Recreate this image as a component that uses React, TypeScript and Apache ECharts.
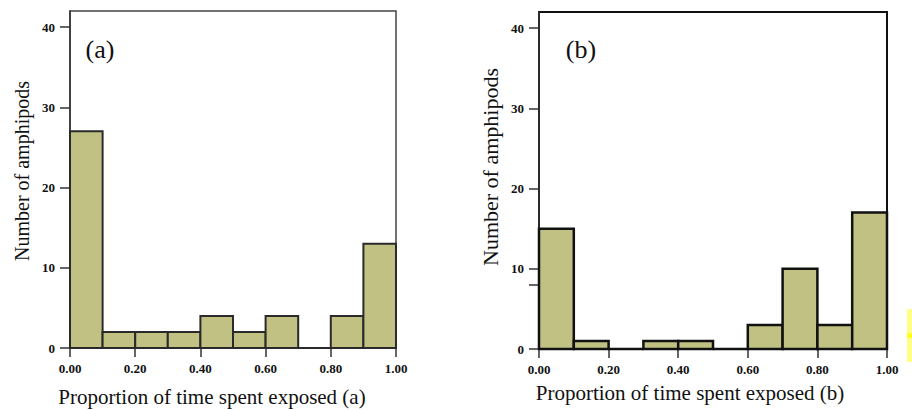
import React, { useEffect, useRef } from "react";
import * as echarts from "echarts";

const binEdges = [0, 0.1, 0.2, 0.3, 0.4, 0.5, 0.6, 0.7, 0.8, 0.9, 1.0];
const countsA = [27, 2, 2, 2, 4, 2, 4, 0, 4, 13];
const countsB = [15, 1, 0, 1, 1, 0, 3, 10, 3, 17];
const yLabelValues = [0, 10, 20, 30, 40];
const yTickValuesA = [0, 10, 20, 30, 40];
const yTickValuesB = [0, 8, 10, 20, 30, 40];
const xTitleA = "Proportion of time spent exposed (a)";
const xTitleB = "Proportion of time spent exposed (b)";
const yTitle = "Number of amphipods";
const panelA = "(a)";
const panelB = "(b)";

const SERIF = '"Liberation Serif", "Times New Roman", serif';
const FILL = "#c1c183";

function makeData(counts: number[]) {
  return counts.map((c, i) => [binEdges[i], binEdges[i + 1], c]);
}

function makeRender(stroke: string, lw: number) {
  return (params: any, api: any) => {
    const x0 = api.value(0);
    const x1 = api.value(1);
    const v = api.value(2);
    const p0 = api.coord([x0, 0]);
    const p1 = api.coord([x1, v]);
    if (v === 0) {
      return {
        type: "line",
        shape: { x1: p0[0], y1: p0[1], x2: p1[0], y2: p0[1] },
        style: { stroke, lineWidth: lw },
      };
    }
    return {
      type: "rect",
      shape: { x: p0[0], y: p1[1], width: p1[0] - p0[0], height: p0[1] - p1[1] },
      style: { fill: FILL, stroke, lineWidth: lw },
    };
  };
}

function xAxisCfg(gridIndex: number, lineColor: string) {
  return {
    type: "value",
    gridIndex,
    min: 0,
    max: 1,
    interval: 0.2,
    splitLine: { show: false },
    axisLine: { show: true, lineStyle: { color: lineColor, width: 1.5 } },
    axisTick: { show: true, length: 9, lineStyle: { color: "#333", width: 1.5 } },
    axisLabel: {
      margin: 14,
      fontFamily: SERIF,
      fontWeight: "bold",
      fontSize: 13,
      color: "#111",
      formatter: (v: number) => v.toFixed(2),
    },
  };
}

function yAxisCfg(gridIndex: number, tickVals: number[]) {
  return {
    type: "value",
    gridIndex,
    min: 0,
    max: 42,
    splitLine: { show: false },
    axisLine: { show: true, lineStyle: { color: "#333", width: 1.5 } },
    axisTick: {
      show: true,
      length: 10,
      customValues: tickVals,
      lineStyle: { color: "#333", width: 1.5 },
    },
    axisLabel: {
      margin: 15,
      customValues: yLabelValues,
      fontFamily: SERIF,
      fontWeight: "bold",
      fontSize: 13,
      color: "#111",
    },
  };
}

export default function App() {
  const ref = useRef<HTMLDivElement>(null);
  useEffect(() => {
    if (!ref.current) return;
    const chart = echarts.init(ref.current, undefined, { renderer: "svg" });
    chart.setOption({
      animation: false,
      backgroundColor: "#ffffff",
      grid: [
        { left: 70, top: 11, width: 326, height: 337, show: true, borderColor: "#444", borderWidth: 1.5, backgroundColor: "transparent" },
        { left: 539, top: 12, width: 348, height: 337, show: true, borderColor: "#111", borderWidth: 2, backgroundColor: "transparent" },
      ],
      xAxis: [xAxisCfg(0, "#333"), xAxisCfg(1, "#4a4a9a")],
      yAxis: [yAxisCfg(0, yTickValuesA), yAxisCfg(1, yTickValuesB)],
      series: [
        {
          type: "custom",
          xAxisIndex: 0,
          yAxisIndex: 0,
          data: makeData(countsA),
          encode: { x: [0, 1], y: 2 },
          renderItem: makeRender("#2a2a2a", 2),
        },
        {
          type: "custom",
          xAxisIndex: 1,
          yAxisIndex: 1,
          data: makeData(countsB),
          encode: { x: [0, 1], y: 2 },
          renderItem: makeRender("#111", 2.5),
        },
      ],
      graphic: [
        { type: "text", x: 100, y: 49, style: { text: panelA, fontFamily: SERIF, fontSize: 26, fill: "#111", align: "center", verticalAlign: "middle" } },
        { type: "text", x: 581, y: 49, style: { text: panelB, fontFamily: SERIF, fontSize: 26, fill: "#111", align: "center", verticalAlign: "middle" } },
        { type: "text", x: 212, y: 397, style: { text: xTitleA, fontFamily: SERIF, fontSize: 21, fill: "#111", align: "center", verticalAlign: "middle" } },
        { type: "text", x: 690, y: 393, style: { text: xTitleB, fontFamily: SERIF, fontSize: 21, fill: "#111", align: "center", verticalAlign: "middle" } },
        { type: "text", x: 22, y: 171, rotation: Math.PI / 2, style: { text: yTitle, fontFamily: SERIF, fontSize: 20, fill: "#111", align: "center", verticalAlign: "middle" } },
        { type: "text", x: 490, y: 167, rotation: Math.PI / 2, style: { text: yTitle, fontFamily: SERIF, fontSize: 22, fill: "#111", align: "center", verticalAlign: "middle" } },
        { type: "rect", shape: { x: 907, y: 309, width: 5, height: 53 }, style: { fill: "#ffff88" } },
        { type: "rect", shape: { x: 907, y: 333, width: 5, height: 5 }, style: { fill: "#ffff22" } },
      ],
    });
    return () => chart.dispose();
  }, []);
  return (
    <div
      ref={ref}
      style={{ position: "absolute", left: 0, top: 0, width: 912, height: 410 }}
    />
  );
}
